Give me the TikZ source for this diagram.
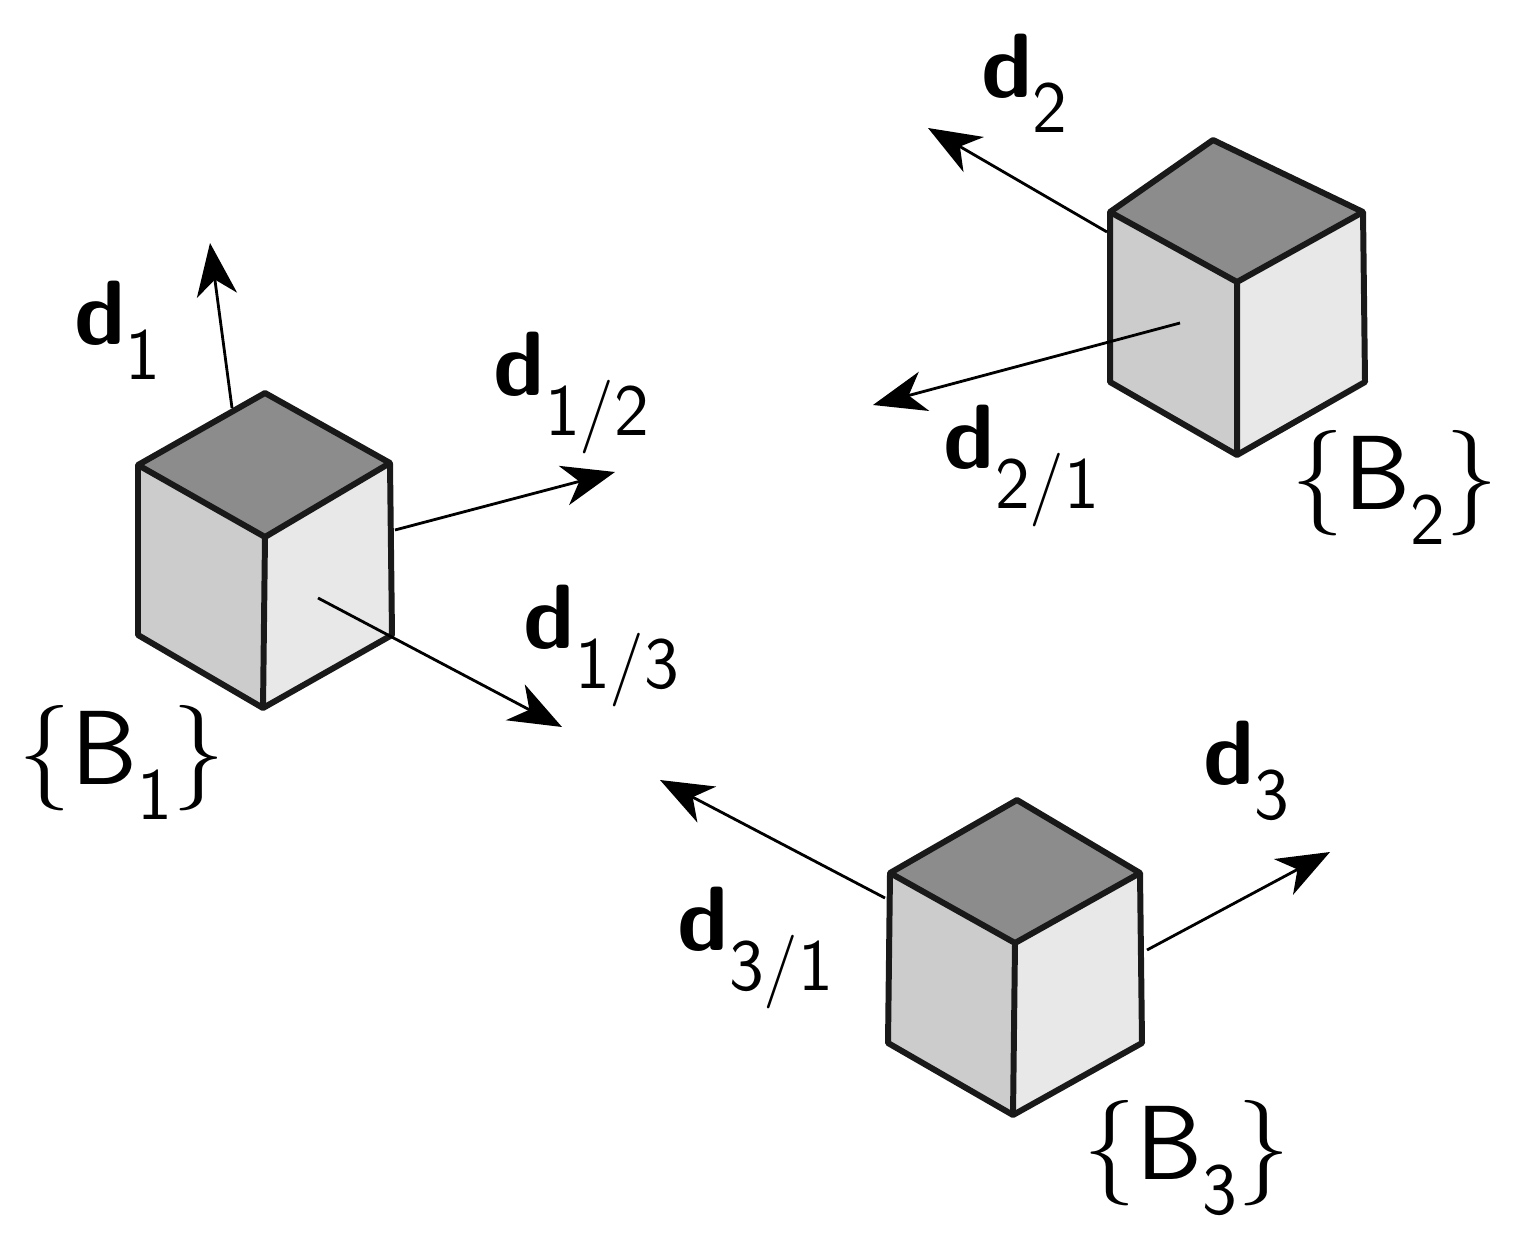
\documentclass[tikz,border=0pt]{standalone}
\usetikzlibrary{arrows.meta}
\begin{document}
\begin{tikzpicture}[x=0.02cm,y=-0.02cm,
  edge/.style={line width=3.4pt,line join=round,draw=black!90},
  arr/.style={line width=1.6pt,-{Stealth[length=30pt,width=23pt,inset=9pt]}},
  lab/.style={font=\sffamily\fontsize{52}{60}\selectfont,inner sep=0pt},
  blab/.style={font=\sffamily\fontsize{60}{68}\selectfont,inner sep=0pt}]
\useasboundingbox (0,0) rectangle (1520,1236);
\newcommand\mycube[8]{%
 \fill[fill={rgb,255:red,140;green,140;blue,140}] (#1) -- (#3) -- (#4) -- (#2) -- cycle;
 \fill[fill={rgb,255:red,204;green,204;blue,204}] (#2) -- (#4) -- (#6) -- (#5) -- cycle;
 \fill[fill={rgb,255:red,232;green,232;blue,232}] (#4) -- (#3) -- (#7) -- (#6) -- cycle;
 \draw[edge] (#1) -- (#3) -- (#7) -- (#6) -- (#5) -- (#2) -- cycle;
 \draw[edge] (#2) -- (#4) -- (#3) (#4) -- (#6);}
\coordinate (a1) at (265,393); \coordinate (a2) at (138,465); \coordinate (a3) at (390,463);
\coordinate (a4) at (265,537); \coordinate (a5) at (138,635); \coordinate (a6) at (263,708); \coordinate (a7) at (392,635);
\mycube{a1}{a2}{a3}{a4}{a5}{a6}{a7}{}
\coordinate (b1) at (1213,140); \coordinate (b2) at (1110,212); \coordinate (b3) at (1363,212);
\coordinate (b4) at (1237,282); \coordinate (b5) at (1110,382); \coordinate (b6) at (1237,455); \coordinate (b7) at (1365,382);
\mycube{b1}{b2}{b3}{b4}{b5}{b6}{b7}{}
\coordinate (c1) at (1017,800); \coordinate (c2) at (890,873); \coordinate (c3) at (1140,873);
\coordinate (c4) at (1015,943); \coordinate (c5) at (888,1043); \coordinate (c6) at (1013,1115); \coordinate (c7) at (1142,1043);
\mycube{c1}{c2}{c3}{c4}{c5}{c6}{c7}{}
\coordinate (s1) at (232,408); \coordinate (e1) at (210,243);
\coordinate (s12) at (395,530); \coordinate (e12) at (615,472);
\coordinate (s13) at (318,598); \coordinate (e13) at (562,727);
\coordinate (s2) at (1107,232); \coordinate (e2) at (928,128);
\coordinate (s21) at (1180,323); \coordinate (e21) at (873,405);
\coordinate (s31) at (885,898); \coordinate (e31) at (660,780);
\coordinate (s3) at (1147,950); \coordinate (e3) at (1330,852);
\foreach \p in {1,12,13,2,21,31,3} \draw[arr] (s\p) -- (e\p);
\newcommand\sub[1]{$_{\raisebox{3pt}{\textsf{\fontsize{42}{46}\selectfont #1}}}$}
\node[lab] (l1) at (118,333) {\textbf{d}\sub{1}};
\node[lab] (l12) at (572,393) {\textbf{d}\sub{1/2}};
\node[lab] (l13) at (602,646) {\textbf{d}\sub{1/3}};
\node[lab] (l2) at (1025,86) {\textbf{d}\sub{2}};
\node[lab] (l21) at (1022,466) {\textbf{d}\sub{2/1}};
\node[lab] (l3) at (1247,773) {\textbf{d}\sub{3}};
\node[lab] (l31) at (756,948) {\textbf{d}\sub{3/1}};
\node[blab] (B1) at (122,765) {\{B\sub{1}\}};
\node[blab] (B2) at (1395,490) {\{B\sub{2}\}};
\node[blab] (B3) at (1187,1160) {\{B\sub{3}\}};
\end{tikzpicture}
\end{document}
